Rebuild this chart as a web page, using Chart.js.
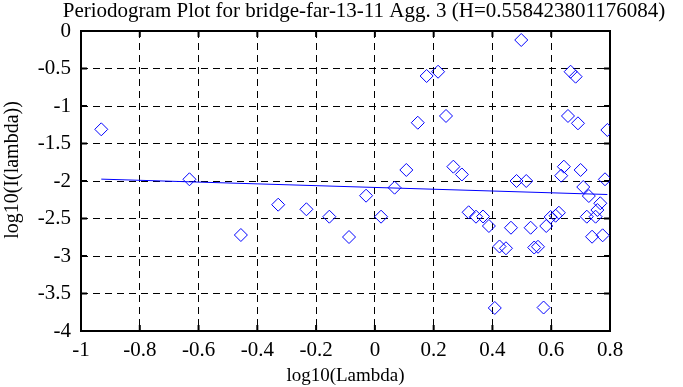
<!DOCTYPE html>
<html>
<head>
<meta charset="utf-8">
<script src="https://cdn.jsdelivr.net/npm/chart.js@4.4.0/dist/chart.umd.min.js"></script>
<style>
  body { margin: 0; background: #fff; }
</style>
</head>
<body>
<canvas id="myChart" width="683" height="387"></canvas>
<script>
// periodogram points: log10(lambda) and log10(I(lambda))
var logLambda = [-0.931, -0.631, -0.456, -0.329, -0.233, -0.155, -0.088, -0.030, 0.021, 0.067,
  0.107, 0.146, 0.176, 0.215, 0.242, 0.267, 0.296, 0.319, 0.344, 0.368,
  0.388, 0.408, 0.424, 0.446, 0.463, 0.482, 0.498, 0.515, 0.530, 0.542,
  0.555, 0.574, 0.583, 0.598, 0.615, 0.626, 0.634, 0.643, 0.657, 0.666,
  0.683, 0.691, 0.700, 0.709, 0.721, 0.728, 0.739, 0.751, 0.757, 0.767,
  0.775, 0.783, 0.791];
var logI = [-1.311, -1.977, -2.720, -2.316, -2.377, -2.476, -2.747, -2.196, -2.476, -2.089,
  -1.853, -1.223, -0.600, -0.543, -1.133, -1.809, -1.913, -2.417, -2.476, -2.473,
  -2.600, -3.693, -2.873, -2.897, -2.623, -2.000, -0.120, -2.000, -2.623, -2.887,
  -2.877, -3.687, -2.600, -2.480, -2.463, -2.423, -1.929, -1.809, -1.133, -0.543,
  -0.609, -1.231, -1.853, -2.080, -2.476, -2.200, -2.743, -2.476, -2.387, -2.297,
  -2.724, -1.977, -1.320];
// fitted line (slope = 1 - 2H)
var fitX = [-0.931, 0.791];
var fitY = [-1.975, -2.180];
var xTicks = [-1, -0.8, -0.6, -0.4, -0.2, 0, 0.2, 0.4, 0.6, 0.8];
var yTicks = [0, -0.5, -1, -1.5, -2, -2.5, -3, -3.5, -4];
var titleText = "Periodogram Plot for bridge-far-13-11 Agg. 3 (H=0.558423801176084)";
var yTitle = "log10(I(lambda))";

var serif = '"Liberation Serif", "Times New Roman", serif';

// frame, inward ticks, title and y axis label
var framePlugin = {
  id: 'frame',
  beforeDatasetsDraw: function (chart) {
    var ctx = chart.ctx, a = chart.chartArea;
    var xs = chart.scales.x, ys = chart.scales.y;
    ctx.save();
    ctx.strokeStyle = '#000';
    ctx.lineWidth = 2;
    ctx.strokeRect(a.left, a.top, a.right - a.left, a.bottom - a.top);
    ctx.beginPath();
    xs.ticks.forEach(function (t) {
      var px = xs.getPixelForValue(t.value);
      ctx.moveTo(px, a.bottom); ctx.lineTo(px, a.bottom - 6);
      ctx.moveTo(px, a.top); ctx.lineTo(px, a.top + 6);
    });
    ys.ticks.forEach(function (t) {
      var py = ys.getPixelForValue(t.value);
      ctx.moveTo(a.left, py); ctx.lineTo(a.left + 6, py);
      ctx.moveTo(a.right, py); ctx.lineTo(a.right - 6, py);
    });
    ctx.stroke();
    ctx.restore();
  },
  afterDraw: function (chart) {
    var ctx = chart.ctx;
    ctx.save();
    ctx.fillStyle = '#000';
    ctx.font = '21px ' + serif;
    ctx.textAlign = 'center';
    ctx.textBaseline = 'middle';
    ctx.fillText(titleText, 364, 11);
    ctx.font = '20px ' + serif;
    ctx.translate(13, 170);
    ctx.rotate(-Math.PI / 2);
    ctx.fillText(yTitle, 0, 0);
    ctx.restore();
  }
};

var points = logLambda.map(function (v, i) { return { x: v, y: logI[i] }; });
var fitLine = fitX.map(function (v, i) { return { x: v, y: fitY[i] }; });

var ctx = document.getElementById('myChart').getContext('2d');
var myChart = new Chart(ctx, {
  type: 'scatter',
  data: {
    datasets: [{
      data: points,
      pointStyle: 'rectRot',
      pointRadius: 6.5,
      pointBorderWidth: 1,
      borderColor: '#0000ff',
      backgroundColor: 'rgba(0,0,0,0)'
    }, {
      type: 'line',
      data: fitLine,
      borderColor: '#0000ff',
      borderWidth: 1,
      pointRadius: 0,
      fill: false
    }]
  },
  options: {
    responsive: false,
    animation: false,
    layout: { padding: { top: 31, right: 73, left: 0, bottom: 0 } },
    plugins: {
      legend: { display: false },
      tooltip: { enabled: false }
    },
    scales: {
      x: {
        type: 'linear',
        min: -1,
        max: 0.8,
        afterBuildTicks: function (s) { s.ticks = xTicks.map(function (v) { return { value: v }; }); },
        afterFit: function (s) { s.height = 56; },
        grid: { color: '#000', lineWidth: 1, drawTicks: false },
        border: { display: false, dash: [7, 5] },
        ticks: {
          color: '#000',
          font: { family: serif, size: 21 },
          padding: 7,
          maxRotation: 0,
          callback: function (v) { return String(Math.round(v * 10) / 10); }
        },
        title: {
          display: true,
          text: 'log10(Lambda)',
          color: '#000',
          font: { family: serif, size: 19 },
          padding: { top: 0, bottom: 0 }
        }
      },
      y: {
        type: 'linear',
        min: -4,
        max: 0,
        afterBuildTicks: function (s) { s.ticks = yTicks.map(function (v) { return { value: v }; }); },
        afterFit: function (s) { s.width = 81; },
        grid: { color: '#000', lineWidth: 1, drawTicks: false },
        border: { display: false, dash: [7, 5] },
        ticks: {
          color: '#000',
          font: { family: serif, size: 21 },
          padding: 10,
          callback: function (v) { return String(Math.round(v * 10) / 10); }
        }
      }
    }
  },
  plugins: [framePlugin]
});
</script>
</body>
</html>
